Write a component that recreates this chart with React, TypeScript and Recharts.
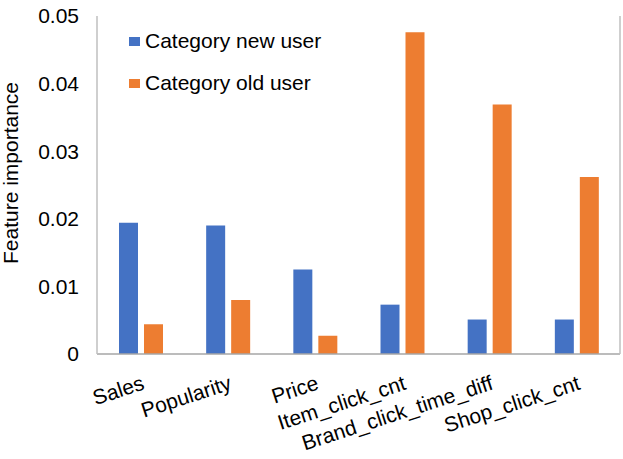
import React from 'react';
import { BarChart, Bar, XAxis, YAxis, Legend } from 'recharts';

const categories = ['Sales', 'Popularity', 'Price', 'Item_click_cnt', 'Brand_click_time_diff', 'Shop_click_cnt'];
const newUser = [0.0194, 0.019, 0.0125, 0.0073, 0.0051, 0.0051];
const oldUser = [0.0044, 0.008, 0.0027, 0.0476, 0.0369, 0.0262];
const yTicks = [0, 0.01, 0.02, 0.03, 0.04, 0.05];
const seriesNames = ['Category new user', 'Category old user'];
const colors = ['#4472C4', '#ED7D31'];

const data = categories.map((c, i) => ({ name: c, newUser: newUser[i], oldUser: oldUser[i] }));

const FONT = '"Liberation Sans", Arial, sans-serif';
const BORDER = '#BFBFBF';

const XTick = (props: any) => {
  const { x, y, payload } = props;
  return (
    <g transform={`translate(${x + 5},${y + 35})`}>
      <text x={0} y={0} textAnchor="end" transform="rotate(-18)" fontSize={21} fontFamily={FONT} fill="#000">
        {payload.value}
      </text>
    </g>
  );
};

const LegendContent = (props: any) => {
  const { payload } = props;
  return (
    <div style={{ fontFamily: FONT, fontSize: 21, color: '#000' }}>
      {(payload || []).map((p: any, i: number) => (
        <div key={i} style={{ height: 42, display: 'flex', alignItems: 'center', whiteSpace: 'nowrap' }}>
          <span style={{ display: 'inline-block', width: 11, height: 9, background: p.color, marginRight: 5 }} />
          <span>{p.value}</span>
        </div>
      ))}
    </div>
  );
};

const YLabel = (props: any) => {
  const { viewBox } = props;
  const cy = viewBox.y + viewBox.height / 2 - 12;
  return (
    <text x={18} y={cy} textAnchor="middle" transform={`rotate(-90, 18, ${cy})`} fontSize={21} fontFamily={FONT} fill="#000">
      Feature importance
    </text>
  );
};

export default function App() {
  return (
    <div style={{ position: 'absolute', left: 0, top: 0, width: 623, height: 459, background: '#fff' }}>
      <BarChart
        width={623}
        height={459}
        data={data}
        margin={{ top: 16, right: 0, left: 0, bottom: 0 }}
        barSize={19}
        barGap={6}
      >
        <XAxis
          dataKey="name"
          height={105}
          interval={0}
          tickLine={false}
          tickSize={0}
          tickMargin={0}
          axisLine={{ stroke: '#A6A6A6', strokeWidth: 1.5 }}
          tick={<XTick />}
        />
        <XAxis
          xAxisId="top"
          dataKey="name"
          orientation="top"
          height={0}
          tick={false}
          tickLine={false}
          axisLine={{ stroke: BORDER, strokeWidth: 1.5 }}
        />
        <YAxis
          width={97}
          domain={[0, 0.05]}
          ticks={yTicks}
          tickLine={false}
          tickSize={0}
          tickMargin={18}
          axisLine={{ stroke: BORDER, strokeWidth: 1.5 }}
          tick={{ fontSize: 21, fontFamily: FONT, fill: '#000' }}
          label={<YLabel />}
        />
        <YAxis
          yAxisId="r"
          orientation="right"
          width={3}
          domain={[0, 0.05]}
          tick={false}
          tickLine={false}
          axisLine={{ stroke: BORDER, strokeWidth: 1.5 }}
        />
        <Legend
          layout="vertical"
          align="center"
          verticalAlign="middle"
          wrapperStyle={{ left: 129, top: 20, width: 'auto', height: 'auto' }}
          content={<LegendContent />}
        />
        <Bar dataKey="newUser" name={seriesNames[0]} fill={colors[0]} isAnimationActive={false} />
        <Bar dataKey="oldUser" name={seriesNames[1]} fill={colors[1]} isAnimationActive={false} />
      </BarChart>
    </div>
  );
}
